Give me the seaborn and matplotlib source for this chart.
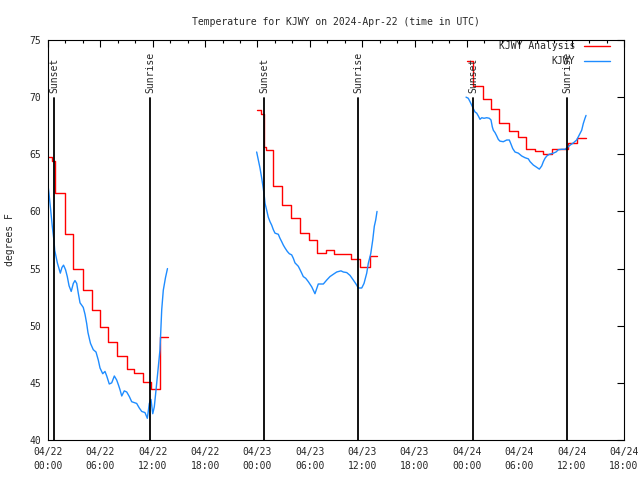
import pandas as pd
import matplotlib.pyplot as plt
import seaborn as sns
from matplotlib.lines import Line2D
from matplotlib.ticker import MultipleLocator

# hours since 04/22 00:00 UTC
red_hours_1 = [0.0, 0.46, 0.8, 1.95, 2.86, 4.0, 5.04, 5.96, 6.9, 7.9, 9.05, 9.85, 10.9, 11.8, 12.83, 13.8]
red_temps_1 = [64.75, 64.4, 61.6, 58.0, 55.0, 53.1, 51.4, 49.9, 48.55, 47.35, 46.2, 45.85, 45.1, 44.45, 49.0, 49.0]
red_hours_2 = [23.9, 24.4, 24.7, 25.0, 25.8, 26.8, 27.85, 28.9, 29.9, 30.8, 31.8, 32.8, 34.7, 35.75, 36.85, 37.65]
red_temps_2 = [68.9, 68.5, 65.6, 65.4, 62.2, 60.55, 59.4, 58.15, 57.5, 56.4, 56.6, 56.25, 55.85, 55.1, 56.1, 56.1]
red_hours_3 = [48.0, 48.75, 49.85, 50.8, 51.7, 52.8, 53.85, 54.75, 55.75, 56.7, 57.8, 59.6, 60.6, 61.65]
red_temps_3 = [73.2, 71.0, 69.8, 69.0, 67.7, 67.0, 66.5, 65.45, 65.25, 65.0, 65.5, 65.95, 66.4, 66.4]

blue_hours_1 = [0.03, 0.11, 0.31, 0.49, 0.69, 0.77, 0.88, 1.07, 1.26, 1.41, 1.60, 1.78, 2.01, 2.21,
                2.41, 2.66, 2.90, 3.09, 3.29, 3.47, 3.67, 3.86, 4.04, 4.24, 4.43, 4.58, 4.76, 4.87,
                5.19, 5.50, 5.76, 5.96, 6.27, 6.53, 6.73, 7.02, 7.30, 7.60, 7.87, 8.08, 8.25, 8.45,
                8.74, 9.02, 9.32, 9.59, 10.16, 10.46, 10.74, 11.11, 11.38, 11.61, 11.80, 12.00,
                12.18, 12.38, 12.64, 12.83, 13.03, 13.21, 13.46, 13.69]
blue_temps_1 = [62.1, 61.6, 60.1, 58.7, 57.4, 56.6, 56.2, 55.5, 55.0, 54.6, 55.1, 55.3, 54.9, 54.3,
                53.5, 53.0, 53.7, 53.95, 53.7, 52.85, 52.0, 51.8, 51.6, 51.0, 50.2, 49.4, 48.8, 48.45,
                47.9, 47.7, 47.0, 46.3, 45.8, 46.0, 45.6, 44.9, 45.0, 45.6, 45.25, 44.8, 44.4, 43.85,
                44.3, 44.2, 43.8, 43.35, 43.2, 42.8, 42.5, 42.4, 41.9, 43.2, 43.55, 42.3,
                42.9, 44.4, 46.4, 47.9, 51.4, 53.1, 54.2, 55.0]
blue_hours_2 = [23.91, 24.10, 24.29, 24.49, 24.67, 24.79, 24.87, 25.06, 25.24, 25.44, 25.63, 25.82,
                26.01, 26.39, 26.58, 26.78, 26.96, 27.16, 27.42, 27.65, 27.92, 28.11, 28.30, 28.68,
                28.88, 29.07, 29.25, 29.53, 29.83, 30.22, 30.59, 30.97, 31.55, 31.94, 32.31, 32.69,
                33.08, 33.57, 33.84, 34.23, 34.61, 34.98, 35.29, 35.56, 35.95, 36.21, 36.52, 36.70,
                36.98, 37.21, 37.39, 37.55, 37.70]
blue_temps_2 = [65.2, 64.5, 63.8, 62.9, 62.0, 61.3, 60.7, 60.1, 59.5, 59.1, 58.8, 58.4,
                58.1, 58.0, 57.65, 57.35, 57.06, 56.8, 56.5, 56.3, 56.2, 55.9, 55.5, 55.2,
                54.9, 54.6, 54.3, 54.15, 53.85, 53.4, 52.8, 53.65, 53.65, 54.0, 54.3, 54.5,
                54.7, 54.8, 54.7, 54.65, 54.4, 54.0, 53.65, 53.3, 53.3, 53.7, 54.6, 55.45,
                56.3, 57.5, 58.7, 59.25, 60.0]
blue_hours_3 = [47.90, 48.16, 48.36, 48.55, 48.73, 48.93, 49.12, 49.31, 49.50, 49.70, 49.96, 50.27,
                50.57, 50.76, 50.91, 51.03, 51.22, 51.42, 51.60, 51.79, 52.17, 52.56, 52.86, 53.02,
                53.25, 53.51, 53.89, 54.28, 54.66, 55.04, 55.23, 55.61, 56.00, 56.30, 56.57, 56.76,
                56.95, 57.15, 57.44, 57.90, 58.21, 58.48, 58.87, 59.24, 59.51, 59.82, 60.20, 60.58,
                60.88, 61.15, 61.34, 61.53, 61.65]
blue_temps_3 = [70.0, 69.9, 69.6, 69.3, 69.0, 68.7, 68.6, 68.35, 68.06, 68.2, 68.15, 68.2,
                68.15, 68.0, 67.4, 67.1, 66.9, 66.6, 66.3, 66.15, 66.1, 66.25, 66.25, 65.95,
                65.5, 65.2, 65.1, 64.85, 64.7, 64.6, 64.36, 64.06, 63.86, 63.7, 63.98, 64.36,
                64.65, 64.85, 65.0, 65.1, 65.2, 65.4, 65.44, 65.44, 65.6, 65.8, 66.0, 66.25,
                66.7, 67.1, 67.7, 68.15, 68.4]

sun_hours = [0.73, 11.73, 24.8, 35.56, 48.73, 59.5]
sun_labels = ['Sunset', 'Sunrise', 'Sunset', 'Sunrise', 'Sunset', 'Sunrise']

tick_dates = ['04/22'] * 4 + ['04/23'] * 4 + ['04/24'] * 4
tick_times = ['00:00', '06:00', '12:00', '18:00'] * 3


def to_frame(parts):
    rows = []
    for seg, (hours, temps) in enumerate(parts):
        for h, t in zip(hours, temps):
            rows.append({'hour': h, 'temp': t, 'seg': seg})
    return pd.DataFrame(rows)


red_df = to_frame([(red_hours_1, red_temps_1), (red_hours_2, red_temps_2), (red_hours_3, red_temps_3)])
blue_df = to_frame([(blue_hours_1, blue_temps_1), (blue_hours_2, blue_temps_2), (blue_hours_3, blue_temps_3)])

sns.set_style('white')
plt.rcParams['font.family'] = ['DejaVu Sans Mono']
plt.rcParams['font.size'] = 7

red = '#ff0000'
blue = '#1e8cff'

fig = plt.figure(figsize=(6.4, 4.8), dpi=100)
ax = fig.add_axes([48 / 640, 40 / 480, 576 / 640, 400 / 480])

sns.lineplot(data=red_df, x='hour', y='temp', units='seg', estimator=None, sort=False,
             color=red, lw=1.0, drawstyle='steps-post', ax=ax, legend=False)
sns.lineplot(data=blue_df, x='hour', y='temp', units='seg', estimator=None, sort=False,
             color=blue, lw=1.0, ax=ax, legend=False)

for h, lab in zip(sun_hours, sun_labels):
    ax.axvline(h, ymin=0, ymax=0.855, color='black', lw=1.3)
    ax.text(h, 0.8675, lab, transform=ax.get_xaxis_transform(), rotation=90,
            rotation_mode='anchor', ha='left', va='center', fontsize=7)

ax.set_xlim(0, 66)
ax.set_ylim(40, 75)
ax.set_xticks(range(0, 67, 6))
ax.set_xticklabels([f'{d}\n{t}' for d, t in zip(tick_dates, tick_times)], linespacing=1.55)
ax.xaxis.set_minor_locator(MultipleLocator(2))
ax.set_yticks(range(40, 76, 5))
ax.tick_params(which='both', direction='in', top=True, right=True, color='black',
               labelsize=7, width=0.8)
ax.tick_params(which='major', length=5, pad=5)
ax.tick_params(which='minor', length=2.5)
for s in ax.spines.values():
    s.set_color('black')
    s.set_linewidth(0.8)

ax.set_xlabel('')
ax.set_ylabel('degrees F', fontsize=7)
ax.yaxis.set_label_coords(-0.057, 0.5)
ax.set_title('Temperature for KJWY on 2024-Apr-22 (time in UTC)', fontsize=7, pad=11)

handles = [Line2D([], [], color=red, lw=1.0), Line2D([], [], color=blue, lw=1.0)]
ax.legend(handles, ['KJWY Analysis', 'KJWY'], loc='upper right', markerfirst=False,
          frameon=False, bbox_to_anchor=((610 - 48) / 576, (440 - 41) / 400),
          borderaxespad=0, borderpad=0, handlelength=2.7, handletextpad=0.9,
          labelspacing=0.55, fontsize=7)

fig.savefig('out.png', dpi=100)
